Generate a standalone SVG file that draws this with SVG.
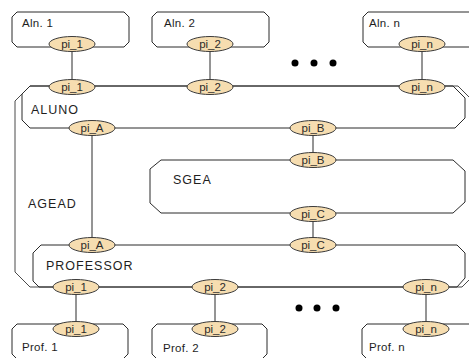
<svg xmlns="http://www.w3.org/2000/svg" width="469" height="358" viewBox="0 0 469 358">
  <style>
    .box { fill: none; stroke: #2a2a2a; stroke-width: 1; }
    .outer { fill: none; stroke: #4a4a4a; stroke-width: 1; }
    .port { fill: #F6DDB0; stroke: #3a3a3a; stroke-width: 1; }
    .wire { stroke: #2a2a2a; stroke-width: 1; fill: none; }
    .plabel { font-family: "Liberation Sans", Arial, sans-serif; font-size: 11.5px; fill: #2a2a2a; text-anchor: middle; }
    .name { font-family: "Liberation Sans", Arial, sans-serif; font-size: 12.5px; fill: #1e1e1e; letter-spacing: 1px; }
    .inst { font-family: "Liberation Sans", Arial, sans-serif; font-size: 11.5px; fill: #1e1e1e; letter-spacing: 0.3px; }
    .dot { fill: #000; }
  </style>
  <defs>
    <ellipse id="pe" rx="23" ry="7.5" class="port"/>
  </defs>
  <rect width="469" height="358" fill="#fff"/>

  <!-- composite outline -->
  <g id="agead">
    <path class="outer" d="M473,101 L458,86 L30,86 L15,101 L15,272 L30,287 L462,287 L473,276"/>
    <text class="name" x="28" y="208">AGEAD</text>
  </g>

  <g id="aluno">
    <path class="box" d="M30,86 L453,86 L465,98 L465,118 L455,128 L30,128 L22,120 L22,94 Z"/>
    <text class="name" x="31" y="114">ALUNO</text>
  </g>

  <g id="sgea">
    <path class="box" d="M161,160 L453,160 L465,171 L465,202 L453,213 L161,213 L150,203 L150,169 Z"/>
    <text class="name" x="173" y="184">SGEA</text>
  </g>

  <g id="professor">
    <path class="box" d="M41,245 L457,245 L465,253 L465,278 L457,287 L39,287 L33,281 L33,253 Z"/>
    <text class="name" x="46" y="270">PROFESSOR</text>
  </g>

  <!-- instance boxes, top row -->
  <g id="aln1">
    <path class="box" d="M17,12 L124,12 L129,17 L129,42 L124,47 L17,47 L12,42 L12,17 Z"/>
    <text class="inst" x="22" y="27">Aln. 1</text>
  </g>
  <g id="aln2">
    <path class="box" d="M157,12 L264,12 L269,17 L269,42 L264,47 L157,47 L152,42 L152,17 Z"/>
    <text class="inst" x="164" y="27">Aln. 2</text>
  </g>
  <g id="alnn">
    <path class="box" d="M368,12 L470,12 L475,17 L475,42 L470,47 L368,47 L363,42 L363,17 Z"/>
    <text class="inst" x="369" y="27">Aln. n</text>
  </g>

  <!-- instance boxes, bottom row -->
  <g id="prof1">
    <path class="box" d="M17,324 L123,324 L128,329 L128,354 L123,359 L17,359 L12,354 L12,329 Z"/>
    <text class="inst" x="22" y="351">Prof. 1</text>
  </g>
  <g id="prof2">
    <path class="box" d="M157,324 L262,324 L267,329 L267,354 L262,359 L157,359 L152,354 L152,329 Z"/>
    <text class="inst" x="163" y="352">Prof. 2</text>
  </g>
  <g id="profn">
    <path class="box" d="M367,324 L470,324 L475,329 L475,354 L470,359 L367,359 L362,354 L362,329 Z"/>
    <text class="inst" x="369" y="351">Prof. n</text>
  </g>

  <!-- connectors between ports -->
  <g id="connectors">
    <line class="wire" x1="72" y1="51" x2="72" y2="80"/>
    <line class="wire" x1="210" y1="51" x2="210" y2="80"/>
    <line class="wire" x1="422" y1="51" x2="422" y2="80"/>
    <line class="wire" x1="92" y1="135" x2="92" y2="238"/>
    <line class="wire" x1="313" y1="135" x2="313" y2="153"/>
    <line class="wire" x1="313" y1="221" x2="313" y2="238"/>
    <line class="wire" x1="76" y1="294" x2="76" y2="321"/>
    <line class="wire" x1="215" y1="294" x2="215" y2="321"/>
    <line class="wire" x1="426" y1="294" x2="426" y2="321"/>
  </g>

  <!-- ports -->
  <g id="ports-aln">
    <use href="#pe" x="72" y="44"/><text class="plabel" x="72" y="48">pi_1</text>
    <use href="#pe" x="210" y="44"/><text class="plabel" x="210" y="48">pi_2</text>
    <use href="#pe" x="422" y="44"/><text class="plabel" x="422" y="48">pi_n</text>
  </g>
  <g id="ports-aluno">
    <use href="#pe" x="72" y="87"/><text class="plabel" x="72" y="91">pi_1</text>
    <use href="#pe" x="210" y="87"/><text class="plabel" x="210" y="91">pi_2</text>
    <use href="#pe" x="422" y="87"/><text class="plabel" x="422" y="91">pi_n</text>
    <use href="#pe" x="92" y="128"/><text class="plabel" x="92" y="132">pi_A</text>
    <use href="#pe" x="313" y="128"/><text class="plabel" x="313" y="132">pi_B</text>
  </g>
  <g id="ports-sgea">
    <use href="#pe" x="313" y="160"/><text class="plabel" x="313" y="164">pi_B</text>
    <use href="#pe" x="313" y="214"/><text class="plabel" x="313" y="218">pi_C</text>
  </g>
  <g id="ports-professor">
    <use href="#pe" x="92" y="245"/><text class="plabel" x="92" y="249">pi_A</text>
    <use href="#pe" x="313" y="245"/><text class="plabel" x="313" y="249">pi_C</text>
    <use href="#pe" x="76" y="287"/><text class="plabel" x="76" y="291">pi_1</text>
    <use href="#pe" x="215" y="287"/><text class="plabel" x="215" y="291">pi_2</text>
    <use href="#pe" x="426" y="287"/><text class="plabel" x="426" y="291">pi_n</text>
  </g>
  <g id="ports-prof">
    <use href="#pe" x="76" y="329"/><text class="plabel" x="76" y="333">pi_1</text>
    <use href="#pe" x="215" y="329"/><text class="plabel" x="215" y="333">pi_2</text>
    <use href="#pe" x="426" y="329"/><text class="plabel" x="426" y="333">pi_n</text>
  </g>

  <!-- ellipsis marks -->
  <g id="dots">
    <circle class="dot" cx="295" cy="63" r="3.5"/>
    <circle class="dot" cx="314" cy="63" r="3.5"/>
    <circle class="dot" cx="333" cy="63" r="3.5"/>
    <circle class="dot" cx="299" cy="308" r="3.5"/>
    <circle class="dot" cx="317" cy="308" r="3.5"/>
    <circle class="dot" cx="336" cy="308" r="3.5"/>
  </g>
</svg>
